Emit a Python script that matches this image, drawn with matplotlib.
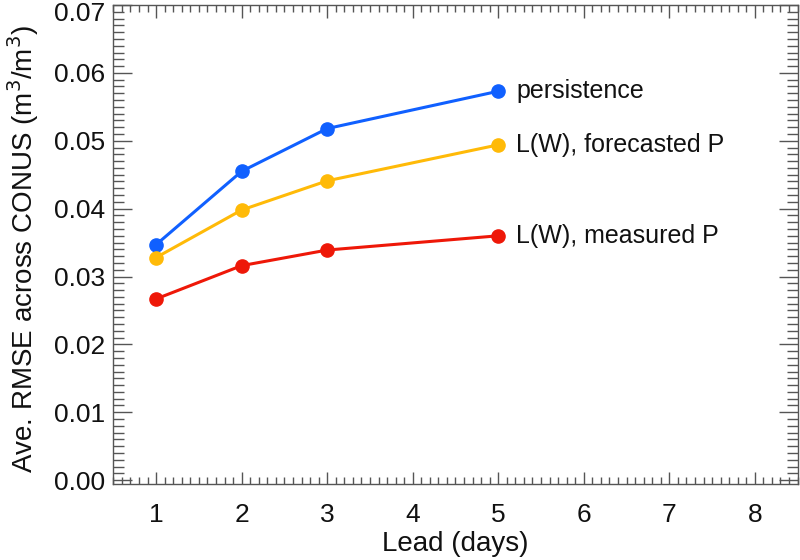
import matplotlib
matplotlib.use("Agg")
import matplotlib.pyplot as plt
from matplotlib.ticker import MultipleLocator, FormatStrFormatter
from matplotlib.transforms import ScaledTranslation

lead = [1, 2, 3, 5]
persistence = [0.0347, 0.0455, 0.0518, 0.0573]
forecasted = [0.0328, 0.0398, 0.0441, 0.0494]
measured = [0.0267, 0.0316, 0.0339, 0.0360]
labels = ["persistence", "L(W), forecasted P", "L(W), measured P"]
colors = ["#1060FF", "#FFBA08", "#EE1808"]

plt.rcParams['font.family'] = ['Liberation Sans', 'DejaVu Sans']

fig = plt.figure(figsize=(8, 5.6), dpi=100)
ax = fig.add_axes([0.1417, 0.1366, 0.997 - 0.1417, 0.991 - 0.1366])

for series, lab, c in zip([persistence, forecasted, measured], labels, colors):
    ax.plot(lead, series, color=c, lw=2.2, marker='o', markersize=9.5, zorder=3)
    ax.annotate(lab, xy=(lead[-1], series[-1]), xytext=(13, 0),
                textcoords='offset points', va='center', ha='left',
                fontsize=18, color='#111111')

ax.set_xlim(0.5, 8.5)
ax.set_ylim(-0.0005, 0.07)
ax.xaxis.set_major_locator(MultipleLocator(1))
ax.xaxis.set_minor_locator(MultipleLocator(0.1))
ax.yaxis.set_major_locator(MultipleLocator(0.01))
ax.yaxis.set_minor_locator(MultipleLocator(0.001))
ax.yaxis.set_major_formatter(FormatStrFormatter('%.2f'))

ax.tick_params(axis='both', which='both', direction='in', top=True, right=True,
               color='#555555', width=1, labelsize=19, labelcolor='#111111')
ax.tick_params(axis='y', which='major', length=14)
ax.tick_params(axis='y', which='minor', length=8)
ax.tick_params(axis='x', which='major', length=9)
ax.tick_params(axis='x', which='minor', length=5)
ax.tick_params(axis='x', which='major', pad=14)
ax.tick_params(axis='y', which='major', pad=6)
for s in ax.spines.values():
    s.set_color('#555555')
    s.set_linewidth(1)

ax.set_xlabel("Lead (days)", fontsize=20, color='#111111', labelpad=3)
ax.set_ylabel("Ave. RMSE across CONUS (m$^3$/m$^3$)", fontsize=20, color='#111111')
ax.yaxis.set_label_coords(-0.106, 0.49)

fig.canvas.draw()
for t in ax.get_yticklabels():
    if t.get_text() == '0.07':
        t.set_transform(t.get_transform() + ScaledTranslation(0, -6 / 100, fig.dpi_scale_trans))

fig.savefig("out.png", dpi=100)
